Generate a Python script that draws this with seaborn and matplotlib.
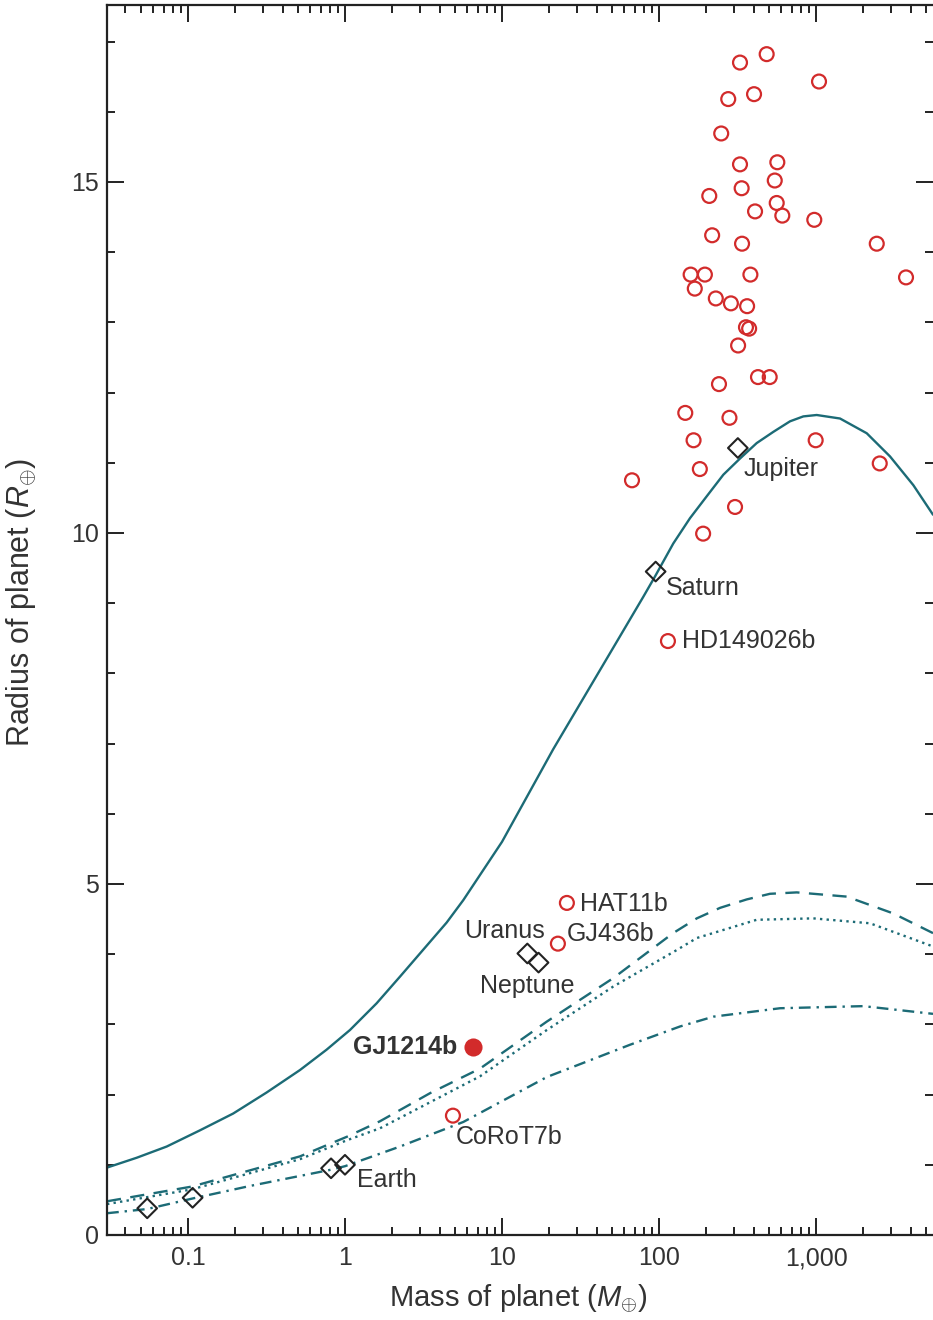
import numpy as np
import pandas as pd
import matplotlib
matplotlib.use("Agg")
import matplotlib.pyplot as plt
import seaborn as sns
from matplotlib.ticker import FixedLocator, FixedFormatter, LogLocator, MultipleLocator, NullFormatter

# ---------------- data ----------------
# model curves (mass in Earth masses, radius in Earth radii)
hhe_mass = [0.0305, 0.0471, 0.0732, 0.119, 0.194, 0.317, 0.517, 0.764, 1.076, 1.59, 2.24, 4.44, 5.67,
            10.0, 21.2, 56.5, 79.4, 94.3, 123.3, 157.5, 201, 257, 328, 419, 535, 683, 830, 1010, 1422,
            2104, 2960, 4169, 5560]
hhe_radius = [0.96, 1.10, 1.26, 1.49, 1.73, 2.03, 2.35, 2.64, 2.92, 3.30, 3.68, 4.45, 4.77,
              5.60, 6.92, 8.53, 9.09, 9.38, 9.85, 10.21, 10.52, 10.83, 11.06, 11.28, 11.44, 11.59, 11.66,
              11.68, 11.63, 11.42, 11.09, 10.68, 10.26]

dashed_mass = [0.0305, 0.106, 0.517, 1.03, 1.67, 3.48, 7.24, 19.3, 51.2, 123, 174, 245, 362, 509,
               754, 1569, 3107, 5560]
dashed_radius = [0.48, 0.69, 1.12, 1.40, 1.62, 2.02, 2.37, 3.04, 3.66, 4.30, 4.51, 4.66, 4.78, 4.86,
                 4.88, 4.82, 4.58, 4.30]

dotted_mass = [0.0305, 0.106, 0.517, 1.03, 1.67, 7.24, 19.3, 51.2, 130, 174, 419, 961, 2208, 5560]
dotted_radius = [0.44, 0.65, 1.08, 1.35, 1.52, 2.26, 2.92, 3.54, 4.06, 4.23, 4.49, 4.51, 4.44, 4.11]

dashdot_mass = [0.0305, 0.055, 0.107, 0.25, 0.815, 1.0, 2.24, 5.67, 19.3, 65.4, 136, 222, 590, 2000, 5560]
dashdot_radius = [0.31, 0.37, 0.52, 0.70, 0.93, 0.98, 1.26, 1.61, 2.25, 2.71, 2.97, 3.11, 3.23, 3.26, 3.15]

# solar-system planets
ss_names = ["Mercury", "Venus", "Earth", "Mars", "Jupiter", "Saturn", "Uranus", "Neptune"]
ss_mass = [0.055, 0.815, 1.0, 0.107, 317.8, 95.2, 14.5, 17.1]
ss_radius = [0.38, 0.95, 1.0, 0.53, 11.21, 9.45, 4.01, 3.88]

# transiting exoplanets (unlabelled)
exo_mass = [328, 485, 1045, 276, 403, 249, 328, 567, 546, 336, 209, 562, 409, 610, 975, 218, 338,
            2437, 159, 196, 382, 3743, 169, 230, 287, 364, 358, 375, 319, 241, 427, 507, 147, 281,
            166, 995, 2546, 182, 67.3, 305, 191]
exo_radius = [16.70, 16.82, 16.43, 16.18, 16.25, 15.69, 15.25, 15.28, 15.02, 14.91, 14.80, 14.70,
              14.58, 14.52, 14.46, 14.24, 14.12, 14.12, 13.68, 13.68, 13.68, 13.64, 13.48, 13.34,
              13.27, 13.23, 12.93, 12.91, 12.67, 12.12, 12.22, 12.22, 11.71, 11.64, 11.32, 11.32,
              10.99, 10.91, 10.75, 10.37, 9.99]

# labelled exoplanets
lab_names = ["HD149026b", "HAT11b", "GJ436b", "CoRoT7b"]
lab_mass = [114, 25.9, 22.7, 4.87]
lab_radius = [8.46, 4.73, 4.15, 1.70]

gj_name = "GJ1214b"
gj_mass = [6.55]
gj_radius = [2.68]

x_tick_values = [0.1, 1, 10, 100, 1000]
x_tick_labels = ["0.1", "1", "10", "100", "1,000"]
y_tick_values = [0, 5, 10, 15]
y_tick_labels = ["0", "5", "10", "15"]

# ---------------- style ----------------
sns.set_theme(style="ticks")
plt.rcParams["font.family"] = ["Liberation Sans", "DejaVu Sans"]
plt.rcParams["mathtext.fontset"] = "custom"
plt.rcParams["mathtext.rm"] = "Liberation Sans"
plt.rcParams["mathtext.it"] = "Liberation Sans:italic"
plt.rcParams["mathtext.bf"] = "Liberation Sans:bold"

TEAL = "#1c6b76"
RED = "#d22b2b"
DARK = "#222222"
TXT = "#333333"

fig = plt.figure(figsize=(9.33, 13.2), dpi=100)
ax = fig.add_axes([107 / 933, 1 - 1235 / 1320, 1 - 107 / 933, (1235 - 5) / 1320])
ax.set_xscale("log")
ax.set_xlim(0.0305, 5560)
ax.set_ylim(0, 17.52)

# curves
curves = [
    (hhe_mass, hhe_radius, "-"),
    (dashed_mass, dashed_radius, (0, (6, 4))),
    (dotted_mass, dotted_radius, (0, (1, 1.8))),
    (dashdot_mass, dashdot_radius, (0, (5, 2.5, 1, 2.5))),
]
for m, r, ls in curves:
    df = pd.DataFrame({"mass": m, "radius": r})
    sns.lineplot(data=df, x="mass", y="radius", ax=ax, color=TEAL, linewidth=1.7,
                 linestyle=ls, sort=False, estimator=None, zorder=2)

# exoplanets
exo_df = pd.DataFrame({"mass": exo_mass + lab_mass, "radius": exo_radius + lab_radius})
sns.scatterplot(data=exo_df, x="mass", y="radius", ax=ax, marker="o", s=100,
                facecolor="none", edgecolor=RED, linewidth=1.6, zorder=3)

# solar system
ss_df = pd.DataFrame({"mass": ss_mass, "radius": ss_radius})
sns.scatterplot(data=ss_df, x="mass", y="radius", ax=ax, marker="D", s=100,
                facecolor="none", edgecolor=DARK, linewidth=1.5, zorder=4)

# GJ1214b
gj_df = pd.DataFrame({"mass": gj_mass, "radius": gj_radius})
sns.scatterplot(data=gj_df, x="mass", y="radius", ax=ax, marker="o", s=170,
                color=RED, edgecolor=RED, linewidth=0, zorder=5)

# annotations
FS = 18
def lab(text, m, r, dx, dy, ha, weight="normal"):
    ax.annotate(text, xy=(m, r), xytext=(dx, dy), textcoords="offset pixels",
                ha=ha, va="center", fontsize=FS, color=TXT, fontweight=weight, zorder=6)

lab("Jupiter", ss_mass[4], ss_radius[4], 6, -21, "left")
lab("Saturn", ss_mass[5], ss_radius[5], 10, -16, "left")
lab("Uranus", ss_mass[6], ss_radius[6], 18, 22, "right")
lab("Neptune", ss_mass[7], ss_radius[7], -11, -23, "center")
lab("Earth", ss_mass[2], ss_radius[2], 12, -15, "left")
lab(lab_names[0], lab_mass[0], lab_radius[0], 14, 0, "left")
lab(lab_names[1], lab_mass[1], lab_radius[1], 13, -1, "left")
lab(lab_names[2], lab_mass[2], lab_radius[2], 9, 10, "left")
lab(lab_names[3], lab_mass[3], lab_radius[3], 3, -21, "left")
lab(gj_name, gj_mass[0], gj_radius[0], -16, 0, "right", weight="bold")

# axes & ticks
ax.xaxis.set_major_locator(FixedLocator(x_tick_values))
ax.xaxis.set_major_formatter(FixedFormatter(x_tick_labels))
ax.xaxis.set_minor_locator(LogLocator(base=10, subs=np.arange(2, 10)))
ax.xaxis.set_minor_formatter(NullFormatter())
ax.yaxis.set_major_locator(FixedLocator(y_tick_values))
ax.yaxis.set_major_formatter(FixedFormatter(y_tick_labels))
ax.yaxis.set_minor_locator(MultipleLocator(1))

ax.tick_params(which="both", direction="in", top=True, right=True, bottom=True, left=True,
               width=1.4, color=DARK, labelsize=18, labelcolor=TXT)
ax.tick_params(which="major", length=12)
ax.tick_params(which="minor", length=6)
ax.tick_params(axis="x", which="major", pad=8)
ax.tick_params(axis="y", which="major", pad=6)

for side in ["left", "bottom", "top"]:
    ax.spines[side].set_linewidth(1.6)
    ax.spines[side].set_color(DARK)
    ax.spines[side].set_visible(True)
ax.spines["right"].set_visible(False)

ax.set_xlabel(r"Mass of planet ($M_{\oplus}$)", fontsize=21, color=TXT)
ax.set_ylabel(r"Radius of planet ($R_{\oplus}$)", fontsize=22, color=TXT)
ax.xaxis.set_label_coords(0.498, -0.038)
ax.yaxis.set_label_coords(-0.0835, 0.514)

fig.savefig("out.png", dpi=100)
